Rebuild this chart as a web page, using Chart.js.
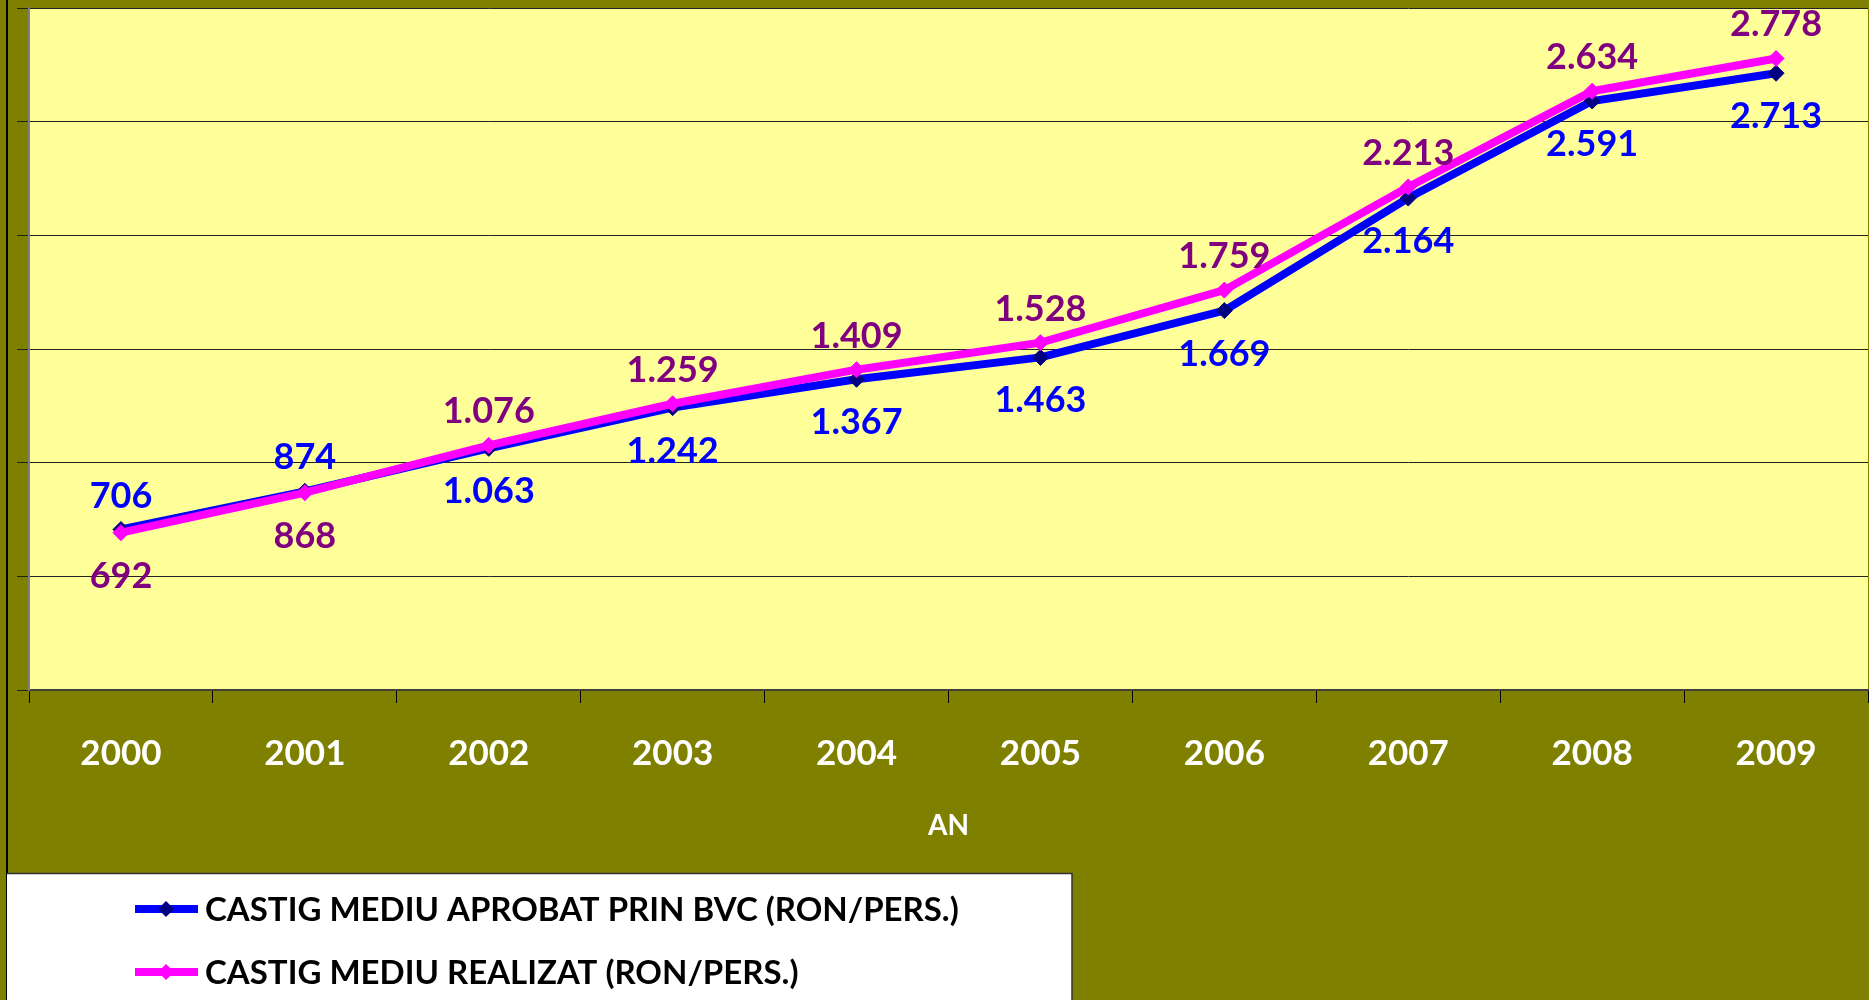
<!DOCTYPE html>
<html>
<head>
<meta charset="utf-8">
<script src="https://cdn.jsdelivr.net/npm/chart.js@4.4.1/dist/chart.umd.min.js"></script>
<style>
    html, body { margin: 0; padding: 0; background: #808000; }
    #wrap { width: 1869px; height: 1000px; }
</style>
</head>
<body>
<div id="wrap"><canvas id="castigChart" width="1869" height="1000"></canvas></div>
<script>
// ===== date =====
const ani = ['2000', '2001', '2002', '2003', '2004', '2005', '2006', '2007', '2008', '2009'];
const aprobatBVC = [706, 874, 1063, 1242, 1367, 1463, 1669, 2164, 2591, 2713];
const realizat = [692, 868, 1076, 1259, 1409, 1528, 1759, 2213, 2634, 2778];
const yMin = 0, yMax = 3000, yPas = 500;
const titluX = 'AN';
const eticheta1 = 'CASTIG MEDIU APROBAT PRIN BVC (RON/PERS.)';
const eticheta2 = 'CASTIG MEDIU REALIZAT (RON/PERS.)';

const FONT = 'Lato';

// 1063 -> "1.063"
const fmt = v => String(v).replace(/\B(?=(\d{3})+(?!\d))/g, '.');

// fundal oliv + zona graficului galbena
const fundal = {
    id: 'fundal',
    beforeDraw(chart) {
        const { ctx, chartArea: a, width, height } = chart;
        ctx.save();
        ctx.fillStyle = '#808000';
        ctx.fillRect(0, 0, width, height);
        ctx.fillStyle = '#FFFF99';
        ctx.fillRect(a.left, a.top, a.right - a.left, a.bottom - a.top);
        ctx.fillStyle = '#000';
        ctx.fillRect(6, 0, 2, height); // chenarul exterior din stanga
        ctx.restore();
    }
};

// etichetele cu valori: seria mai mare deasupra, cea mai mica dedesubt
const etichete = {
    id: 'etichete',
    afterDatasetsDraw(chart) {
        const ctx = chart.ctx;
        const ds = chart.data.datasets;
        ctx.save();
        ctx.font = `bold 36px ${FONT}`;
        ctx.textAlign = 'center';
        ctx.textBaseline = 'alphabetic';
        ds.forEach((d, i) => {
            const meta = chart.getDatasetMeta(i);
            const alta = ds[1 - i].data;
            meta.data.forEach((pt, j) => {
                const sus = d.data[j] >= alta[j];
                ctx.fillStyle = d.culoareEticheta;
                ctx.fillText(fmt(d.data[j]), pt.x, pt.y + (sus ? -22 : 55));
            });
        });
        ctx.restore();
    }
};

// legenda in caseta alba, jos-stanga
const legenda = {
    id: 'legenda',
    afterDraw(chart) {
        const { ctx, height } = chart;
        const top = chart.scales.x.bottom;
        ctx.save();
        ctx.fillStyle = '#fff';
        ctx.fillRect(7, top, 1065, height - top);
        ctx.strokeStyle = '#333';
        ctx.lineWidth = 1.5;
        ctx.beginPath();
        ctx.moveTo(7, top + 0.5);
        ctx.lineTo(1072, top + 0.5);
        ctx.lineTo(1072, height);
        ctx.stroke();

        ctx.font = `bold 33px ${FONT}`;
        ctx.textAlign = 'left';
        ctx.textBaseline = 'alphabetic';
        chart.data.datasets.forEach((d, i) => {
            const y = top + 36 + i * 63;
            ctx.strokeStyle = d.borderColor;
            ctx.lineWidth = d.borderWidth;
            ctx.beginPath();
            ctx.moveTo(135, y);
            ctx.lineTo(198, y);
            ctx.stroke();
            const r = d.pointRadius;
            ctx.fillStyle = d.pointBackgroundColor;
            ctx.beginPath();
            ctx.moveTo(166, y - r);
            ctx.lineTo(166 + r, y);
            ctx.lineTo(166, y + r);
            ctx.lineTo(166 - r, y);
            ctx.closePath();
            ctx.fill();
            ctx.fillStyle = '#000';
            ctx.fillText(d.label, 205, y + 12);
        });
        ctx.restore();
    }
};

const ctx = document.getElementById('castigChart').getContext('2d');
const castigChart = new Chart(ctx, {
    type: 'line',
    data: {
        labels: ani,
        datasets: [{
            label: eticheta1,
            data: aprobatBVC,
            borderColor: '#0000FF',
            borderWidth: 8,
            pointStyle: 'rectRot',
            pointRadius: 8,
            pointBackgroundColor: '#000080',
            pointBorderColor: '#000080',
            pointBorderWidth: 1,
            culoareEticheta: '#0000FF',
            order: 1
        }, {
            label: eticheta2,
            data: realizat,
            borderColor: '#FF00FF',
            borderWidth: 8,
            pointStyle: 'rectRot',
            pointRadius: 8,
            pointBackgroundColor: '#FF00FF',
            pointBorderColor: '#FF00FF',
            pointBorderWidth: 1,
            culoareEticheta: '#800080',
            order: 0
        }]
    },
    options: {
        responsive: false,
        animation: false,
        devicePixelRatio: 1,
        layout: { autoPadding: false, padding: { left: 0, top: 8, right: 1, bottom: 127 } },
        plugins: {
            legend: { display: false },
            tooltip: { enabled: false }
        },
        scales: {
            x: {
                offset: true,
                grid: { offset: true, drawOnChartArea: false, drawTicks: true, tickLength: 13, color: '#000', lineWidth: 1 },
                border: { display: true, color: '#404040', width: 2 },
                ticks: {
                    color: '#fff',
                    font: { family: FONT, size: 35, weight: 'bold' },
                    padding: 30,
                    maxRotation: 0,
                    autoSkip: false
                },
                title: {
                    display: true,
                    text: titluX,
                    color: '#fff',
                    font: { family: FONT, size: 28, weight: 'bold' },
                    padding: { top: 0, bottom: 30 }
                },
                afterFit(scale) {
                    scale.height = 183;
                    scale.paddingLeft = 0;
                    scale.paddingRight = 0;
                }
            },
            y: {
                min: yMin,
                max: yMax,
                ticks: { stepSize: yPas, display: false },
                grid: { color: '#222', lineWidth: 1, drawTicks: true, tickLength: 12 },
                border: { color: '#808080', width: 2 },
                afterFit(scale) { scale.width = 29; }
            }
        }
    },
    plugins: [fundal, etichete, legenda]
});
</script>
</body>
</html>
